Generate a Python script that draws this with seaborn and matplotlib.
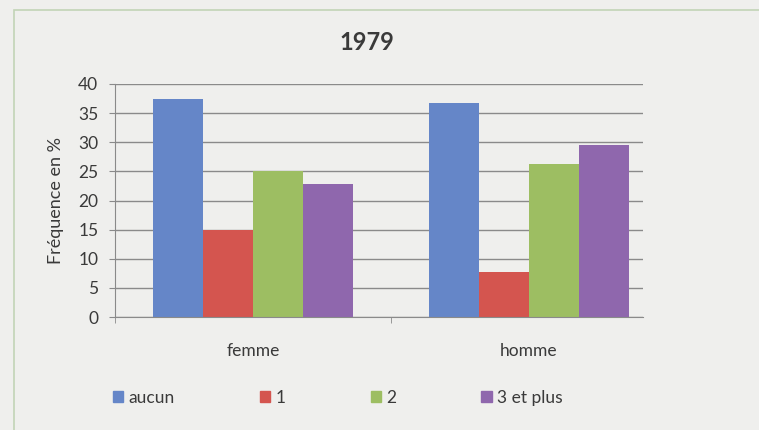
import matplotlib
matplotlib.use("Agg")
import matplotlib.pyplot as plt
import matplotlib.patches as mpatches
import seaborn as sns
import pandas as pd

categories = ["femme", "homme"]
series = ["aucun", "1", "2", "3 et plus"]
femme = [37.5, 15.0, 25.0, 22.8]
homme = [36.8, 7.8, 26.2, 29.5]
colors = ["#6586c8", "#d4554f", "#9dbe62", "#8f67ad"]

rows = []
for s, f, h in zip(series, femme, homme):
    rows.append({"sexe": "femme", "enfants": s, "freq": f})
    rows.append({"sexe": "homme", "enfants": s, "freq": h})
df = pd.DataFrame(rows)

sns.set_style("white")
plt.rcParams["font.family"] = ["Lato", "DejaVu Sans"]

W, H = 759, 430
bg = "#efefed"
fig = plt.figure(figsize=(7.59, 4.30), dpi=100, facecolor=bg)
# plot area: x 115..643 px, y 84..317 px
ax = fig.add_axes([115 / W, 1 - 317 / H, (643 - 115) / W, (317 - 84) / H])
ax.set_facecolor(bg)

sns.barplot(data=df, x="sexe", y="freq", hue="enfants", order=categories,
            hue_order=series, palette=colors, width=0.725, saturation=1,
            linewidth=0, ax=ax, legend=False)

ax.set_ylim(0, 40)
ax.set_xlim(-0.5, 1.413)
ax.set_yticks(range(0, 41, 5))
ax.yaxis.grid(True, color="#8a8a8a", linewidth=1)
ax.set_axisbelow(True)
for s in ["top", "right"]:
    ax.spines[s].set_visible(False)
for s in ["left", "bottom"]:
    ax.spines[s].set_color("#8a8a8a")
ax.tick_params(axis="y", length=4, color="#8a8a8a", labelsize=12.5,
               labelcolor="#3a3a3a", left=True, pad=8)
ax.set_xticks([0, 1])
ax.set_xticklabels(categories)
ax.tick_params(axis="x", length=0, labelsize=12.5, labelcolor="#3a3a3a", pad=19)
ax.set_xticks([-0.5, 0.5], minor=True)
ax.tick_params(axis="x", which="minor", length=4, color="#8a8a8a", bottom=True)
ax.set_xlabel("")
ax.set_ylabel("Fréquence en %", fontsize=13, color="#3a3a3a", labelpad=10)

fig.text(367 / W, 1 - 42 / H, "1979", fontsize=17, fontweight="bold",
         color="#3a3a3a", ha="center", va="center")

handles = [mpatches.Patch(color=c, label=s) for c, s in zip(colors, series)]
fig.legend(handles=handles, loc="center left", bbox_to_anchor=(113 / W, 1 - 398 / H),
           ncol=4, frameon=False, fontsize=12.5, handlelength=0.6, handleheight=0.6,
           handletextpad=0.3, columnspacing=4.9, labelcolor="#3a3a3a",
           borderpad=0, borderaxespad=0)

fig.add_artist(mpatches.Rectangle((14 / W, -0.05), 1.2, 1.05 - 10 / H,
                                  transform=fig.transFigure, fill=False,
                                  edgecolor="#c2d4b6", linewidth=1.2))

fig.savefig("out.png", dpi=100, facecolor=fig.get_facecolor())
